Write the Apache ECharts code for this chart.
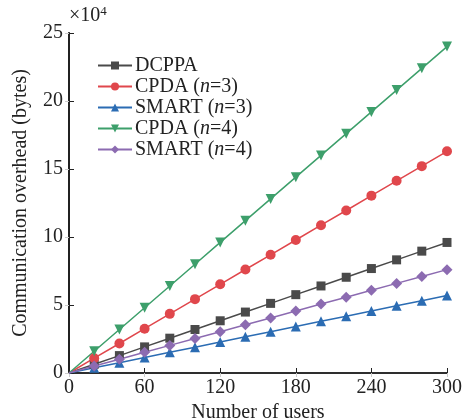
<!DOCTYPE html>
<html>
<head>
<meta charset="utf-8">
<script src="https://cdn.jsdelivr.net/npm/echarts@6/dist/echarts.min.js"></script>
<style>html,body{margin:0;padding:0;background:#fff}#c{width:464px;height:420px}</style>
</head>
<body>
<div id="c"></div>
<script>
const users = [0,20,40,60,80,100,120,140,160,180,200,220,240,260,280,300];
const xTicks = [0,60,120,180,240,300];
const yTicks = [0,5,10,15,20,25];
const dcppa  = [0,0.64,1.28,1.92,2.56,3.2,3.84,4.48,5.12,5.76,6.4,7.04,7.68,8.32,8.96,9.6];
const cpda3  = [0,1.09,2.17,3.26,4.35,5.43,6.52,7.61,8.69,9.78,10.87,11.95,13.04,14.13,15.21,16.3];
const smart3 = [0,0.38,0.76,1.14,1.52,1.9,2.28,2.66,3.04,3.42,3.8,4.18,4.56,4.94,5.32,5.7];
const cpda4  = [0,1.6,3.2,4.8,6.4,8.0,9.6,11.2,12.8,14.4,16.0,17.6,19.2,20.8,22.4,24.0];
const smart4 = [0,0.51,1.01,1.52,2.03,2.53,3.04,3.55,4.05,4.56,5.07,5.57,6.08,6.59,7.09,7.6];

const font = 'Liberation Serif, Times New Roman, serif';
const chart = echarts.init(document.getElementById('c'));

function mk(name, data, color, symbol, size) {
  return {
    name: name,
    type: 'line',
    data: users.map((u, i) => [u, data[i]]),
    symbol: symbol,
    symbolSize: (v, p) => p.dataIndex === 0 ? 0 : size,
    showAllSymbol: true,
    lineStyle: { color: color, width: 1.5 },
    itemStyle: { color: color },
    animation: false
  };
}

const series = [
  mk('DCPPA', dcppa, '#4a4a4a', 'rect', 9),
  mk('CPDA3', cpda3, '#e0474c', 'circle', 10),
  mk('SMART3', smart3, '#2b6cb3', 'triangle', 10),
  mk('CPDA4', cpda4, '#3d9f6b', 'path://M0,0 L10,0 L5,10 Z', 10),
  mk('SMART4', smart4, '#8c6bb1', 'diamond', 11)
];

const labels = {
  DCPPA: 'DCPPA',
  CPDA3: 'CPDA ({i|n}=3)',
  SMART3: 'SMART ({i|n}=3)',
  CPDA4: 'CPDA ({i|n}=4)',
  SMART4: 'SMART ({i|n}=4)'
};

chart.setOption({
  backgroundColor: '#fff',
  animation: false,
  grid: { left: 69, right: 17, top: 33, bottom: 47, containLabel: false, outerBoundsMode: 'none' },
  legend: {
    orient: 'vertical',
    left: 92,
    top: 50,
    itemWidth: 34,
    itemHeight: 10,
    itemGap: 0,
    formatter: n => labels[n],
    textStyle: {
      fontFamily: font, fontSize: 20, color: '#222', lineHeight: 21, padding: [0,0,0,-2],
      rich: { i: { fontFamily: font, fontSize: 20, fontStyle: 'italic', color: '#222', lineHeight: 21 } }
    },
    data: ['DCPPA','CPDA3','SMART3','CPDA4','SMART4']
  },
  xAxis: [{
    type: 'value', min: 0, max: 300, interval: 60,
    name: 'Number of users', nameLocation: 'middle', nameGap: 27,
    nameTextStyle: { fontFamily: font, fontSize: 20, color: '#222' },
    axisLine: { show: true, lineStyle: { color: '#222', width: 2 } },
    axisTick: { show: true, inside: true, length: 5, lineStyle: { color: '#222' } },
    axisLabel: { fontFamily: font, fontSize: 20, color: '#222', margin: 5,
      customValues: xTicks },
    splitLine: { show: false }
  }, {
    type: 'value', min: 0, max: 300, interval: 60, position: 'top',
    axisLine: { show: true, lineStyle: { color: '#333', width: 1.5 } },
    axisTick: { show: true, inside: true, length: 4, lineStyle: { color: '#ccc' } },
    axisLabel: { show: false }, splitLine: { show: false }
  }],
  yAxis: [{
    type: 'value', min: 0, max: 25, interval: 5,
    name: 'Communication overhead (bytes)', nameLocation: 'middle', nameGap: 38,
    nameTextStyle: { fontFamily: font, fontSize: 20, color: '#222' },
    axisLine: { show: true, lineStyle: { color: '#222', width: 2 } },
    axisTick: { show: true, inside: true, length: 5, lineStyle: { color: '#222' } },
    axisLabel: { fontFamily: font, fontSize: 20, color: '#222', margin: 6,
      customValues: yTicks },
    splitLine: { show: false }
  }, {
    type: 'value', min: 0, max: 25, interval: 5, position: 'right',
    axisLine: { show: true, lineStyle: { color: '#222', width: 1.5 } },
    axisTick: { show: true, inside: true, length: 4, lineStyle: { color: '#ccc' } },
    axisLabel: { show: false }, splitLine: { show: false }
  }],
  graphic: [{
    type: 'text', left: 69, top: 5,
    style: {
      text: '×10{s|4}', fontFamily: font, fontSize: 20, fill: '#222',
      rich: { s: { fontFamily: font, fontSize: 13, fill: '#222', verticalAlign: 'top', padding: [0,0,9,0] } }
    }
  }],
  series: series
});
</script>
</body>
</html>
